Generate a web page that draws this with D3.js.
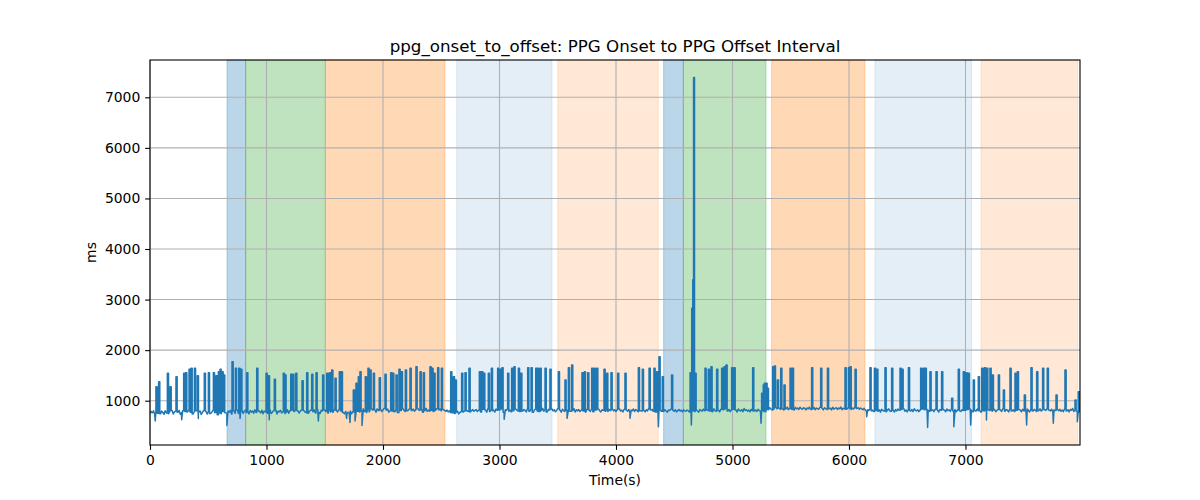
<!DOCTYPE html>
<html>
<head>
<meta charset="utf-8">
<script src="https://cdn.jsdelivr.net/npm/d3@7"></script>
<style>
  body { margin: 0; background: #fff; }
  text { font-family: "DejaVu Sans", sans-serif; }
</style>
</head>
<body>
<svg id="chart" width="1200" height="500"></svg>
<script>
/* ppg_onset_to_offset interval over the recording, with condition spans */
const title = 'ppg_onset_to_offset: PPG Onset to PPG Offset Interval'
const xLabel = 'Time(s)'
const yLabel = 'ms'

// baseline samples, one every baseStep seconds, starting at 0
const baseStep = 10
const baseValues = [
  742,788,761,799,735,776,807,752,783,740,795,768,731,802,757,786,744,791,763,805,
  738,781,796,749,772,808,733,764,799,751,787,726,779,803,745,770,792,737,784,760,
  801,743,775,797,729,768,806,752,789,736,781,798,747,772,810,739,765,794,721,783,
  756,802,741,788,815,763,747,796,772,809,738,785,803,754,778,817,745,791,766,804,
  749,792,818,761,783,739,806,774,797,752,820,768,744,801,787,759,812,741,795,777,
  808,753,789,821,746,772,803,760,816,738,794,779,811,757,783,742,805,769,822,751,
  799,764,815,747,786,823,770,801,755,792,818,741,808,777,763,826,752,794,812,768,
  781,817,759,804,828,772,749,811,795,763,821,786,806,754,832,778,799,767,815,790,
  808,776,824,752,797,815,769,743,788,731,772,758,794,737,781,749,765,726,790,754,
  776,823,797,841,784,812,769,835,801,779,846,815,788,827,771,839,804,792,830,783,
  819,845,790,812,836,774,803,828,797,850,781,816,839,768,825,806,793,842,810,787,
  831,799,818,847,776,808,835,791,822,780,844,812,796,837,773,826,803,849,789,815,
  792,838,811,784,829,805,843,777,818,834,799,771,824,808,786,815,779,801,767,790,
  762,781,748,773,790,739,768,785,754,779,796,762,801,787,812,776,804,823,791,808,
  824,786,811,839,779,802,830,794,817,771,841,806,788,826,799,813,776,834,809,792,
  818,785,837,801,773,822,809,846,790,814,781,829,803,768,838,812,795,821,784,830,
  797,826,808,779,842,815,789,831,801,770,818,836,793,812,784,827,806,848,791,819,
  803,775,829,814,790,837,798,822,781,808,845,792,816,771,830,805,787,823,810,796,
  832,789,815,806,841,778,821,799,826,785,812,839,794,808,773,828,803,817,788,835,
  809,782,826,815,792,838,801,776,821,810,847,793,816,784,829,805,773,836,798,820,
  787,823,806,840,795,812,778,831,804,818,790,827,772,815,801,836,789,824,809,781,
  826,803,794,837,812,780,821,799,845,786,814,829,791,808,775,833,802,776,818,790,
  811,788,823,797,774,816,805,831,783,809,792,820,778,804,826,795,812,781,818,800,
  789,815,803,776,821,794,830,808,785,819,797,773,825,810,791,834,802,780,816,806,
  828,794,817,780,839,806,791,824,812,778,833,801,819,787,842,809,796,827,783,815,
  802,831,789,818,776,836,810,795,824,783,845,807,820,792,813,780,829,803,838,797,
  818,787,829,804,791,824,799,812,783,826,848,821,862,835,817,859,830,871,843,826,
  855,829,866,840,818,852,837,874,823,849,861,832,845,815,868,838,854,826,872,843,
  830,861,846,819,857,838,873,825,850,834,866,821,855,842,828,869,836,851,817,860,
  845,826,864,839,853,818,871,833,848,862,827,856,840,875,822,851,836,867,829,858,
  842,867,825,853,836,871,819,848,860,831,856,838,822,849,817,790,823,805,834,798,
  815,787,828,806,841,793,819,774,832,808,797,825,782,816,838,801,789,827,811,776,
  823,799,836,812,785,828,804,846,791,817,779,830,808,793,825,786,842,810,797,821,
  784,816,803,838,795,821,777,829,811,790,844,806,819,783,831,798,814,775,826,809,
  792,827,810,781,835,803,818,789,841,812,796,824,778,815,833,800,787,822,806,829,
  811,784,826,797,839,815,780,822,808,793,835,801,818,776,828,811,795,843,804,787,
  819,803,836,790,814,827,782,808,831,797,820,785,842,806,793,825,811,779,833,816,
  798,822,787,840,809,793,826,814,780,831,803,817,791,838,806,778,823,812,795,829,
  810,785,827,802,838,796,819,781,824,808,843,790,815,799,832,776,821,805,788,826,
  803,830,791,817,784,836,808,795,822,779,827,811,846,787,814,800,772,809,781,812
]

// upward spikes [start time, ms, hold seconds (default spikeHold)]
const spikeHold = 10
const spikes = [
  [51,1278],[74,1376],[149,1541],[172,1278],[223,1475],[289,1541],[306,1554],[335,1620],
  [352,1640],[381,1640],[406,1495],[466,1541],[501,1554],[544,1554],[567,1495],[587,1574],
  [601,1620],[618,1574],[632,1508],[704,1772],[733,1640],[762,1640],[779,1620],[830,1554],
  [916,1640],[996,1541],[1016,1495],[1067,1423],[1144,1541],[1158,1508],[1208,1522],[1225,1522],
  [1251,1541],[1305,1396],[1345,1554],[1388,1522],[1425,1554],[1482,1508],[1517,1541],[1540,1554],
  [1560,1607],[1588,1442],[1625,1574],[1642,1574],[1745,1212],[1768,1344],[1788,1475],[1802,1574],
  [1848,1475],[1871,1640],[1888,1607],[1917,1541],[1968,1456],[2017,1522],[2066,1554],[2083,1541],
  [2112,1508],[2137,1620],[2157,1574],[2192,1607],[2232,1640],[2283,1673],[2318,1574],[2346,1554],
  [2403,1673],[2420,1640],[2437,1541],[2469,1653],[2501,1640],[2581,1574],[2604,1475],[2620,1409],
  [2675,1541],[2704,1554],[2738,1640],[2827,1574],[2847,1574],[2864,1541],[2904,1541],[2930,1640],
  [2984,1640],[3004,1620],[3021,1653],[3070,1541],[3104,1640],[3124,1673],[3162,1640],[3182,1541],
  [3242,1653],[3271,1653],[3311,1640],[3325,1640],[3348,1640],[3391,1640],[3433,1620],[3505,1574],
  [3562,1409],[3591,1653],[3619,1706],[3708,1554],[3728,1574],[3757,1554],[3791,1640],[3811,1640],
  [3834,1640],[3897,1620],[3920,1541],[3957,1554],[4014,1541],[4077,1541],[4192,1653],[4226,1620],
  [4284,1640],[4326,1640],[4349,1574],[4369,1870],[4397,1475],[4477,1508],
  [4636,1555,8],[4650,2830,8],[4659,3390,6],[4666,7392,8],[4680,1541,8],
  [4764,1640],[4792,1620],[4815,1673],[4864,1620],[4907,1640],[4927,1673],[4944,1706],[4993,1653],
  [5013,1653],[5173,1653],[5250,1146],[5264,1311,8],[5273,1344],[5287,1344],[5299,1245],
  [5345,1673],[5359,1686],[5385,1409],[5414,1640],[5442,1311],[5494,1640],[5514,1640],[5679,1653],
  [5757,1640],[5815,1640],[5966,1653],[5995,1653],[6009,1673],[6052,1620],[6180,1653],[6218,1640],
  [6238,1620],[6309,1653],[6366,1640],[6438,1640],[6455,1620],[6510,1653],[6615,1640],[6638,1640],
  [6654,1640],[6695,1574],[6747,1574],[6795,1574],[6881,1047],[6938,1620],[6981,1574],[7004,1554],
  [7024,1541],[7067,1409],[7110,1475],[7139,1640],[7162,1653],[7182,1640],[7210,1640],[7230,1508],
  [7282,1508],[7325,1212],[7382,1640],[7425,1541],[7445,1574],[7505,1113],[7562,1653],[7611,1574],
  [7662,1640],[7702,1640],[7777,1113],[7854,1607],[7940,1014],[7968,1179]
]

// downward dips [time, ms]
const dips = [
  [45,600],[272,625],[415,650],[660,510],[773,650],[1024,625],[1445,600],[1688,650],
  [1717,570],[1760,600],[1820,510],[3040,632],[3580,652],[4120,652],[4364,486],[4647,520],
  [5245,553],[6152,685],[6675,470],[6900,486],[7045,520],[7180,620],[7525,520],[7754,553],
  [7960,585]
]

// shaded condition spans
const bandStart = [661, 821, 1505, 2633, 3500, 4409, 4578, 5336, 6223, 7133]
const bandEnd   = [821, 1505, 2532, 3451, 4363, 4578, 5288, 6137, 7053, 7963]
const bandKind  = ['blue', 'green', 'orange', 'lightblue', 'lightorange',
                   'blue', 'green', 'orange', 'lightblue', 'lightorange']

const xMax = 7983
const xTicks = [0, 1000, 2000, 3000, 4000, 5000, 6000, 7000]
const yTicks = [1000, 2000, 3000, 4000, 5000, 6000, 7000]

const kindColor = {
  blue: ['#1f77b4', 0.3],
  green: ['#2ca02c', 0.3],
  orange: ['#ff7f0e', 0.3],
  lightblue: ['#1f77b4', 0.12],
  lightorange: ['#ff7f0e', 0.17]
}

const margin = { top: 60, right: 120, bottom: 55, left: 150 }
const width = 1200 - margin.left - margin.right
const height = 500 - margin.top - margin.bottom
const fontSize = 13.9
const tickLen = 4.86

// merge baseline, spikes and dips into one series; a spike rises straight
// from the baseline sample before it and drops back to the one after it
const holdOf = s => s[2] || spikeHold
const inSpike = t => spikes.some(s => t >= s[0] && t <= s[0] + holdOf(s))
const baseBefore = t => baseValues[Math.floor(t / baseStep)]
const baseAfter = t => baseValues[Math.min(baseValues.length - 1, Math.ceil(t / baseStep))]
const spikePts = spikes.flatMap(s => {
  const t0 = s[0], t1 = s[0] + holdOf(s)
  return [
    { t: t0, v: baseBefore(t0), o: 0 }, { t: t0, v: s[1], o: 1 },
    { t: t1, v: s[1], o: 2 }, { t: t1, v: baseAfter(t1), o: 3 }
  ]
})
const series = baseValues.map((v, i) => ({ t: i * baseStep, v: v, o: 0 }))
  .filter(d => !inSpike(d.t))
  .concat(spikePts)
  .concat(dips.map(d => ({ t: d[0], v: d[1], o: 0 })))
  .sort((a, b) => a.t - b.t || a.o - b.o)

const ext = d3.extent(series, d => d.v)
const pad = (ext[1] - ext[0]) * 0.05

const x = d3.scaleLinear().domain([0, xMax]).range([0, width])
const y = d3.scaleLinear().domain([ext[0] - pad, ext[1] + pad]).range([height, 0])

const svg = d3.select('#chart')
const g = svg.append('g')
  .attr('transform', `translate(${margin.left},${margin.top})`)

g.append('clipPath').attr('id', 'clip')
  .append('rect').attr('width', width).attr('height', height)

// spans
g.append('g').selectAll('rect')
  .data(bandStart.map((s, i) => ({ s: s, e: bandEnd[i], k: bandKind[i] })))
  .enter().append('rect')
  .attr('x', d => x(d.s))
  .attr('y', 0)
  .attr('width', d => x(d.e) - x(d.s))
  .attr('height', height)
  .attr('fill', d => kindColor[d.k][0])
  .attr('fill-opacity', d => kindColor[d.k][1])
  .attr('stroke', d => kindColor[d.k][0])
  .attr('stroke-opacity', d => kindColor[d.k][1])
  .attr('stroke-width', 1)

// grid
g.append('g').selectAll('line')
  .data(xTicks).enter().append('line')
  .attr('x1', d => x(d)).attr('x2', d => x(d))
  .attr('y1', 0).attr('y2', height)
  .attr('stroke', '#b0b0b0').attr('stroke-width', 1.1)
g.append('g').selectAll('line')
  .data(yTicks).enter().append('line')
  .attr('x1', 0).attr('x2', width)
  .attr('y1', d => y(d)).attr('y2', d => y(d))
  .attr('stroke', '#b0b0b0').attr('stroke-width', 1.1)

// signal
const line = d3.line().x(d => x(d.t)).y(d => y(d.v))
g.append('path')
  .datum(series)
  .attr('clip-path', 'url(#clip)')
  .attr('d', line)
  .attr('fill', 'none')
  .attr('stroke', '#1f77b4')
  .attr('stroke-width', 1.5)
  .attr('stroke-linejoin', 'round')

// axes
const xAxis = d3.axisBottom(x).tickValues(xTicks).tickFormat(d3.format('d'))
  .tickSize(tickLen).tickPadding(tickLen)
const yAxis = d3.axisLeft(y).tickValues(yTicks).tickFormat(d3.format('d'))
  .tickSize(tickLen).tickPadding(tickLen)

const gx = g.append('g').attr('transform', `translate(0,${height})`).call(xAxis)
const gy = g.append('g').call(yAxis)
;[gx, gy].forEach(a => {
  a.select('.domain').remove()
  a.selectAll('line').attr('stroke', '#000').attr('stroke-width', 1.1)
  a.selectAll('text').attr('fill', '#000').style('font-size', fontSize + 'px')
    .style('font-family', '"DejaVu Sans", sans-serif')
})

// spines
g.append('rect')
  .attr('width', width).attr('height', height)
  .attr('fill', 'none').attr('stroke', '#000').attr('stroke-width', 1.1)

// labels
svg.append('text')
  .attr('x', margin.left + width / 2).attr('y', 51.5)
  .attr('text-anchor', 'middle')
  .style('font-size', '16.7px')
  .text(title)

svg.append('text')
  .attr('x', margin.left + width / 2).attr('y', 485)
  .attr('text-anchor', 'middle')
  .style('font-size', fontSize + 'px')
  .text(xLabel)

svg.append('text')
  .attr('transform', `translate(96,${margin.top + height / 2}) rotate(-90)`)
  .attr('text-anchor', 'middle')
  .style('font-size', fontSize + 'px')
  .text(yLabel)
</script>
</body>
</html>
